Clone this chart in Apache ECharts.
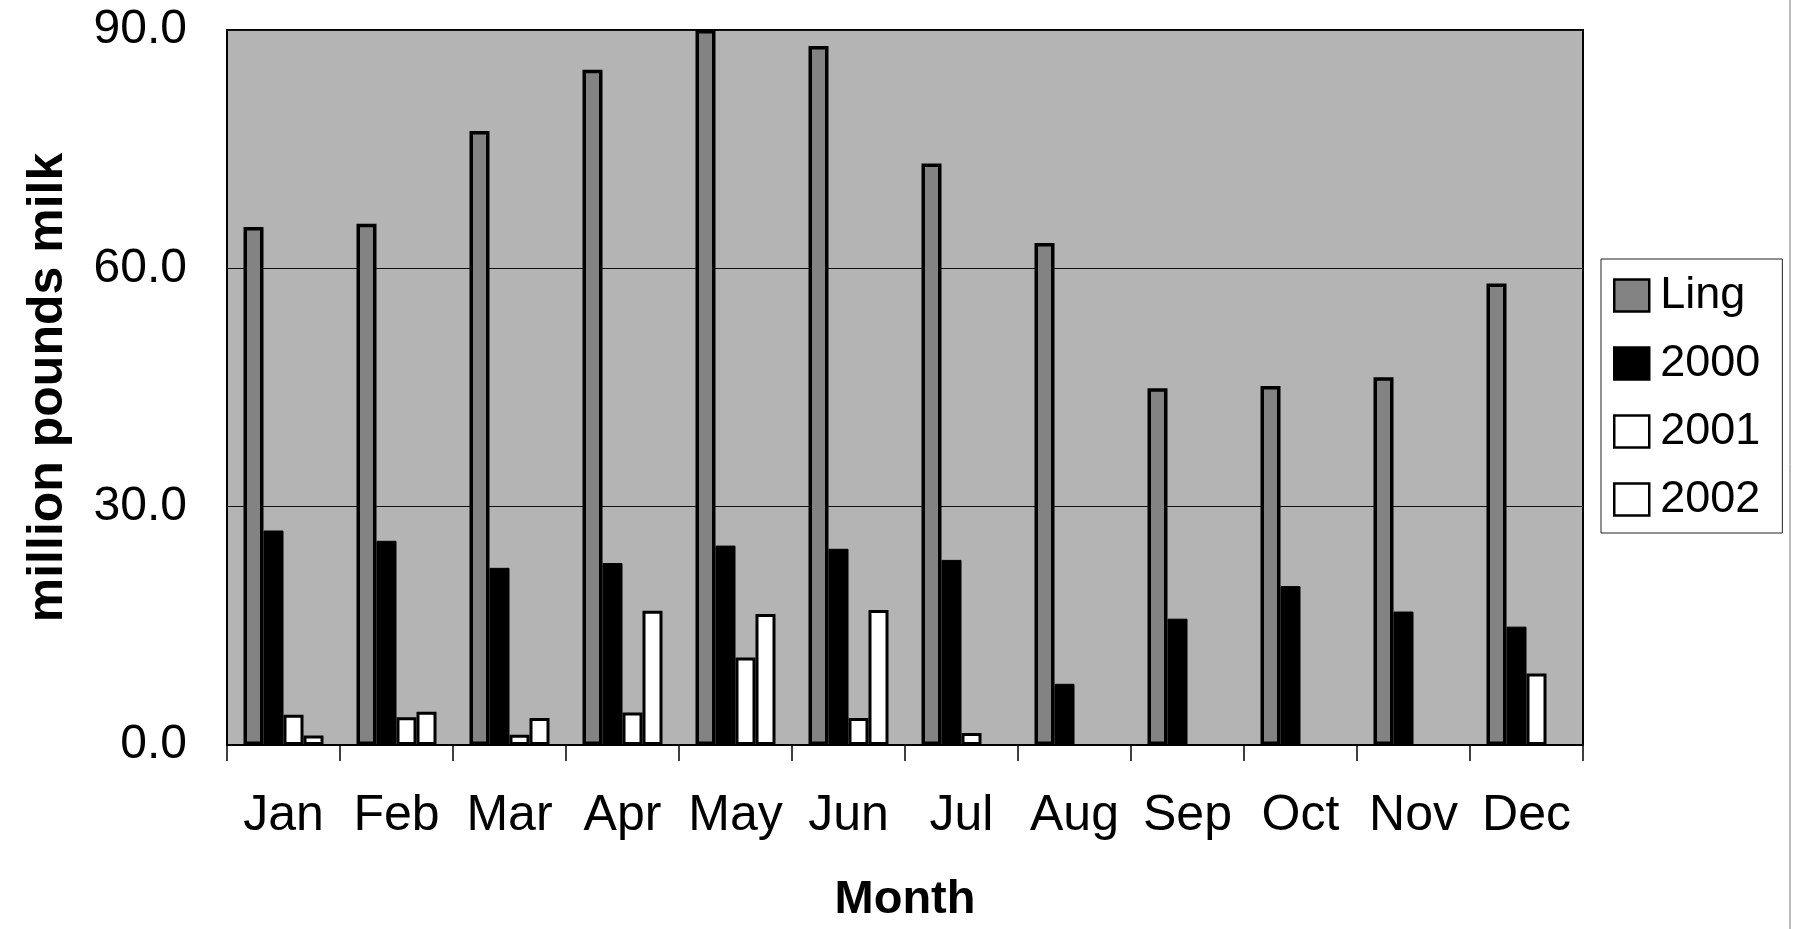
<!DOCTYPE html>
<html>
<head>
<meta charset="utf-8">
<script src="https://cdn.jsdelivr.net/npm/echarts@6/dist/echarts.min.js"></script>
<style>
    html, body { margin: 0; padding: 0; background: #fff; }
    #main { width: 1793px; height: 929px; }
</style>
</head>
<body>
<div id="main"></div>
<script>
    // 数据
    var months = ['Jan', 'Feb', 'Mar', 'Apr', 'May', 'Jun', 'Jul', 'Aug', 'Sep', 'Oct', 'Nov', 'Dec'];
    var ling = [65.2, 65.6, 77.3, 85.0, 90.0, 88.0, 73.2, 63.2, 44.9, 45.2, 46.3, 58.1];
    var y2000 = [27.0, 25.7, 22.3, 22.9, 25.1, 24.7, 23.3, 7.7, 15.9, 20.0, 16.8, 14.9];
    var y2001 = [3.8, 3.5, 1.3, 4.1, 11.0, 3.4, 1.5, null, null, null, null, 9.0];
    var y2002 = [1.2, 4.2, 3.4, 16.9, 16.5, 17.0, null, null, null, null, null, null];
    var yTicks = [0, 30, 60, 90];

    var font = '"Liberation Sans", Arial, Helvetica, sans-serif';

    var myChart = echarts.init(document.getElementById('main'));

    var option = {
        animation: false,
        backgroundColor: '#fff',
        grid: {
            left: 227,
            top: 30,
            right: 210,
            bottom: 180,
            show: true,
            backgroundColor: '#b4b4b4',
            borderColor: '#000',
            borderWidth: 2
        },
        legend: {
            orient: 'vertical',
            left: 1601,
            top: 259,
            padding: [14, 22, 11, 12],
            itemWidth: 35,
            itemHeight: 32,
            itemGap: 23,
            borderColor: '#222',
            borderWidth: 1,
            backgroundColor: '#fff',
            icon: 'rect',
            itemStyle: { borderColor: '#000', borderWidth: 2.5 },
            textStyle: { fontFamily: font, fontSize: 45, lineHeight: 44, color: '#000', padding: [0, 0, 0, 6] },
            data: ['Ling', '2000', '2001', '2002']
        },
        xAxis: {
            type: 'category',
            data: months,
            name: 'Month',
            nameLocation: 'middle',
            nameGap: 132,
            nameTextStyle: { fontFamily: font, fontSize: 47, fontWeight: 'bold', color: '#000' },
            axisLine: { lineStyle: { color: '#000', width: 2 } },
            axisTick: { show: true, length: 16, lineStyle: { color: '#000', width: 1.5 } },
            axisLabel: { fontFamily: font, fontSize: 50, color: '#000', margin: 46, interval: 0 }
        },
        yAxis: {
            type: 'value',
            min: yTicks[0],
            max: yTicks[yTicks.length - 1],
            interval: 30,
            name: 'million pounds milk',
            nameLocation: 'middle',
            nameGap: 154,
            nameTextStyle: { fontFamily: font, fontSize: 50, fontWeight: 'bold', color: '#000' },
            axisLine: { show: true, lineStyle: { color: '#000', width: 2 } },
            axisTick: { show: false },
            axisLabel: {
                fontFamily: font, fontSize: 48, color: '#000', margin: 40,
                formatter: function (v) { return v.toFixed(1); }
            },
            splitLine: { show: true, lineStyle: { color: '#111', width: 1 } }
        },
        series: [
            {
                name: 'Ling', type: 'bar', data: ling,
                barWidth: 20, barGap: '0%',
                itemStyle: { color: '#838383', borderColor: '#000', borderWidth: 3.5 }
            },
            {
                name: '2000', type: 'bar', data: y2000,
                barWidth: 20, barGap: '0%',
                itemStyle: { color: '#000', borderColor: '#000', borderWidth: 1 }
            },
            {
                name: '2001', type: 'bar', data: y2001,
                barWidth: 20, barGap: '0%',
                itemStyle: { color: '#fff', borderColor: '#000', borderWidth: 3 }
            },
            {
                name: '2002', type: 'bar', data: y2002,
                barWidth: 20, barGap: '0%',
                itemStyle: { color: '#fff', borderColor: '#000', borderWidth: 3 }
            }
        ],
        graphic: [
            {
                type: 'line',
                shape: { x1: 1790, y1: 0, x2: 1790, y2: 929 },
                style: { stroke: '#777', lineWidth: 1 }
            }
        ]
    };

    myChart.setOption(option);
</script>
</body>
</html>
